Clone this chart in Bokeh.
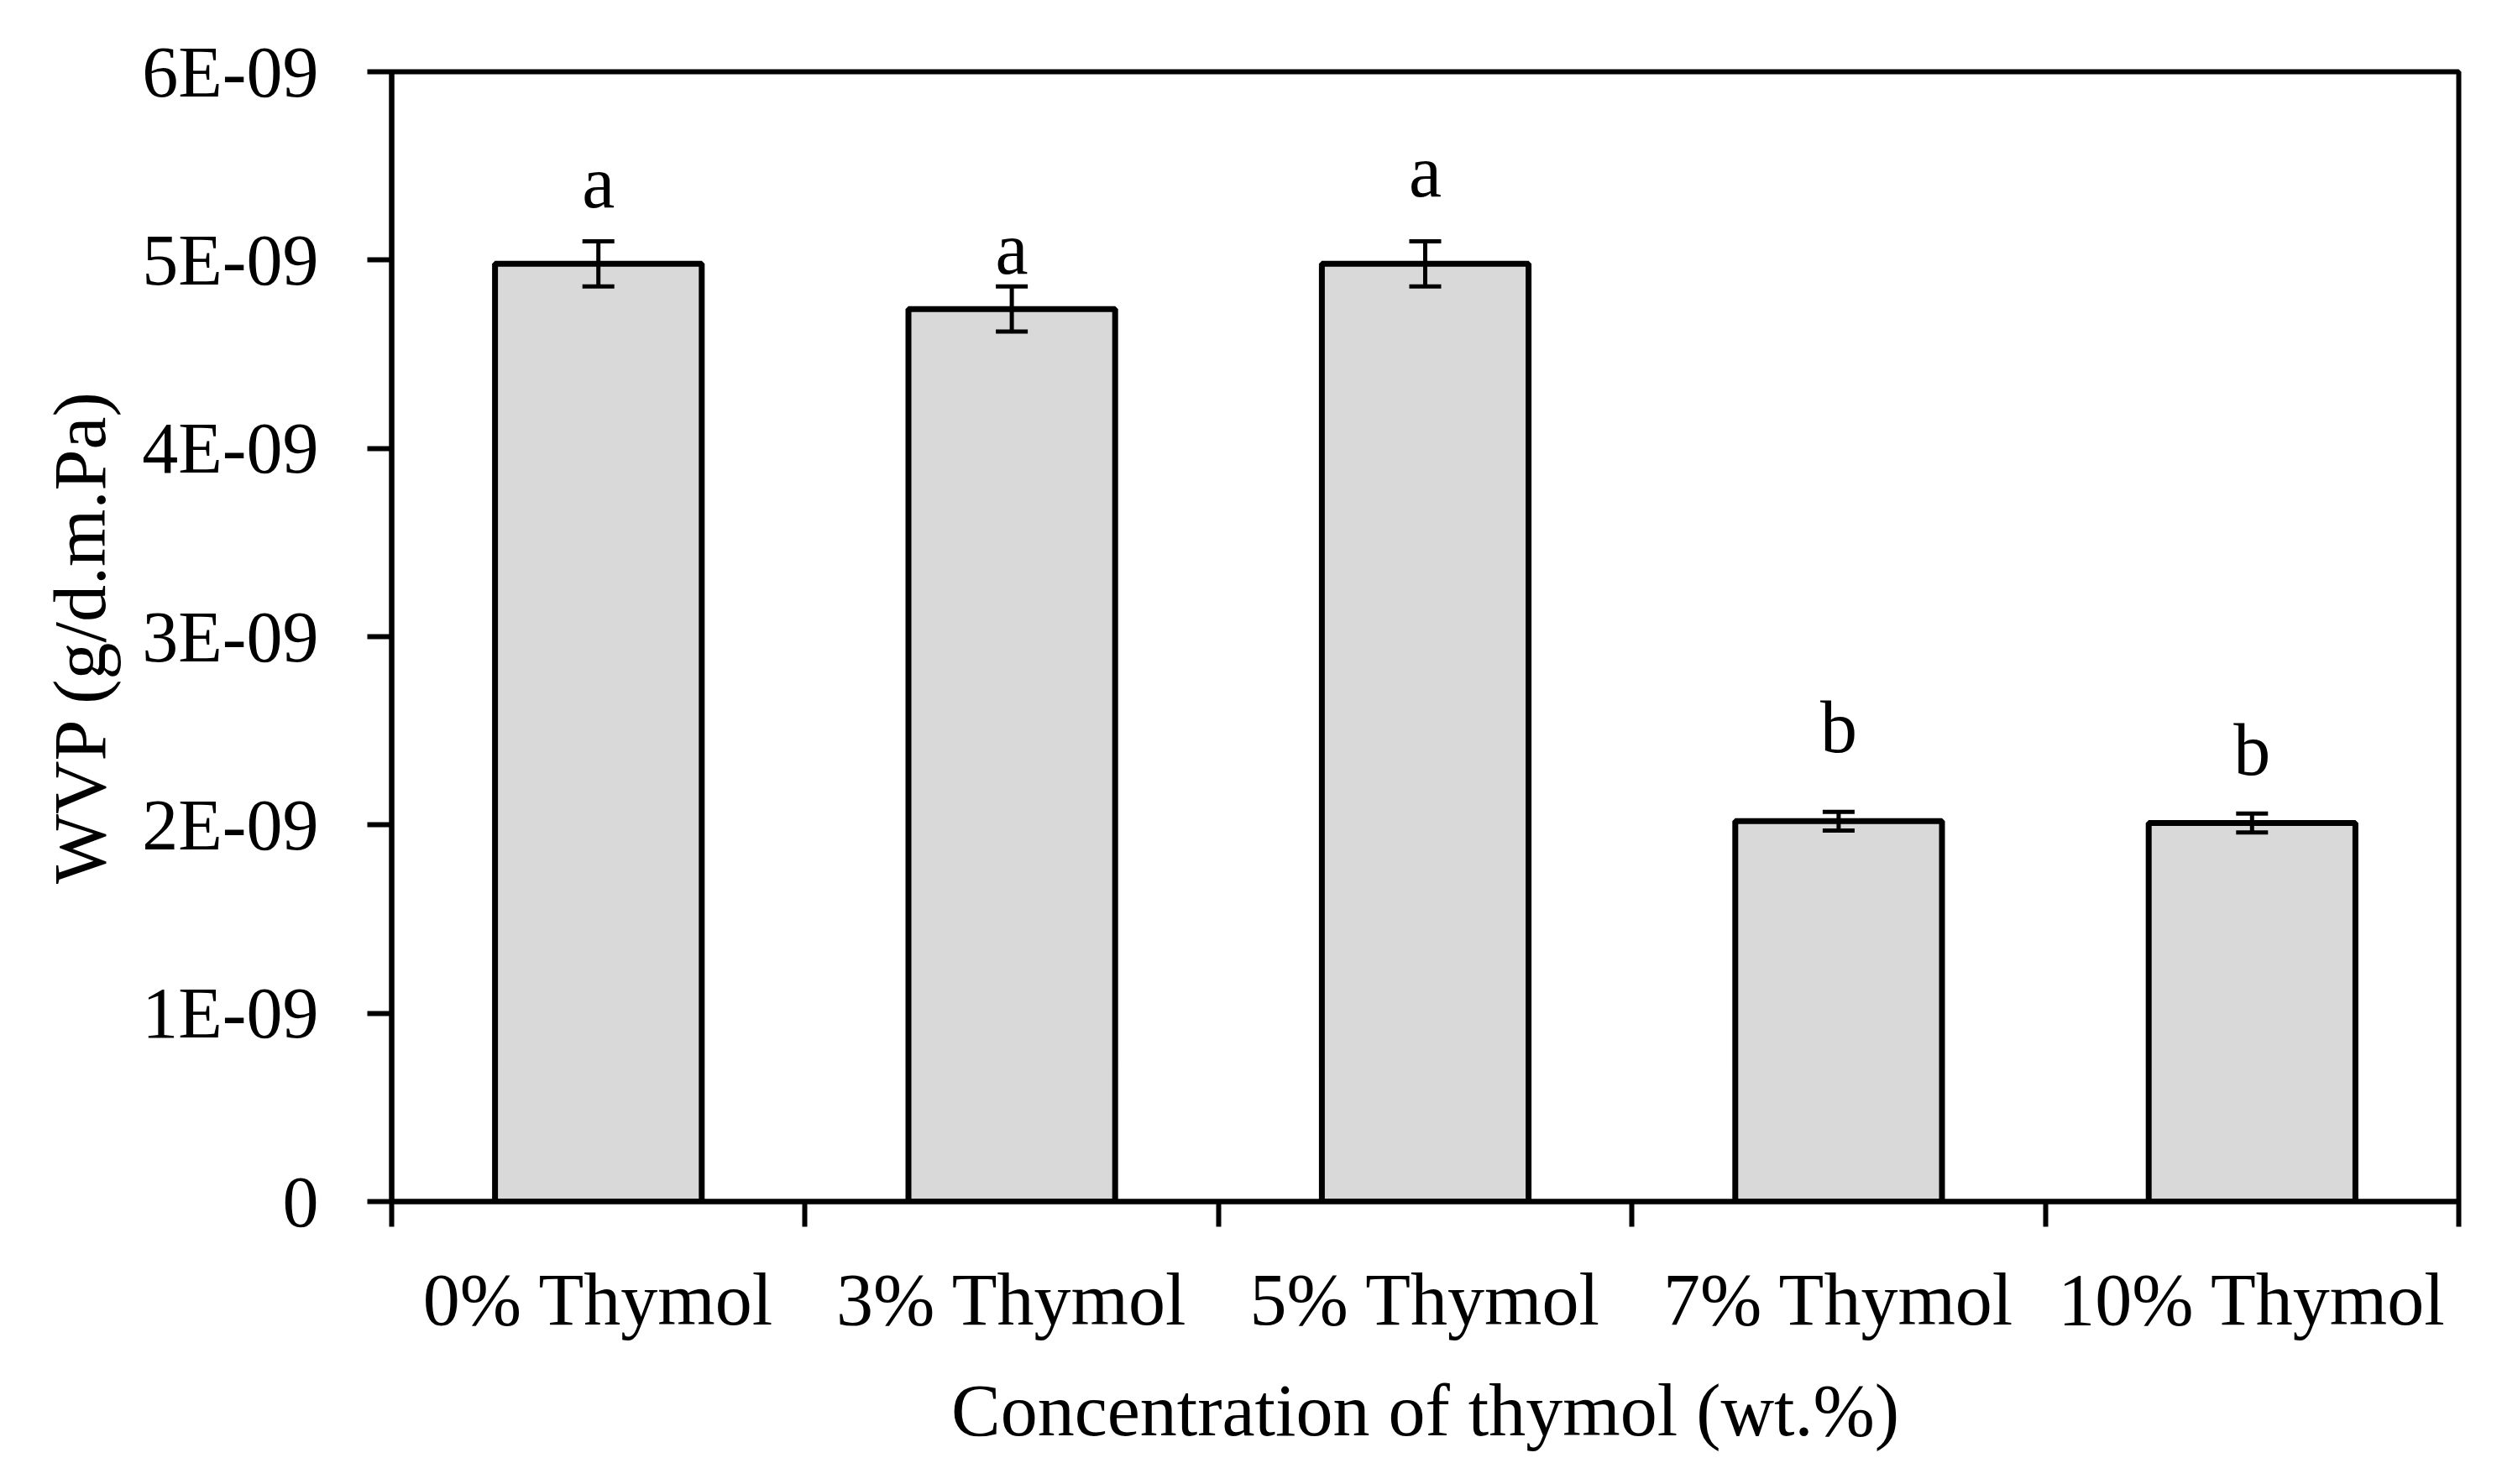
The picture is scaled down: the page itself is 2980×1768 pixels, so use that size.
from bokeh.core.properties import value
from bokeh.embed import file_html
from bokeh.models import (ColumnDataSource, CustomJSTickFormatter, FixedTicker,
                          Range1d, TeeHead, Whisker)
from bokeh.plotting import figure
from bokeh.resources import INLINE

# data
categories = ["0% Thymol", "3% Thymol", "5% Thymol", "7% Thymol", "10% Thymol"]
wvp = [4.98e-9, 4.74e-9, 4.98e-9, 2.02e-9, 2.01e-9]
wvp_err = [0.12e-9, 0.12e-9, 0.12e-9, 0.05e-9, 0.05e-9]
letters = ["a", "a", "a", "b", "b"]
letter_y = [5.41e-9, 5.06e-9, 5.47e-9, 2.52e-9, 2.40e-9]
y_ticks = [0, 1e-9, 2e-9, 3e-9, 4e-9, 5e-9, 6e-9]

FONT = "Liberation Serif"
FS = "88px"

xs = [i + 0.5 for i in range(len(categories))]
src = ColumnDataSource(dict(
    x=xs, top=wvp,
    upper=[v + e for v, e in zip(wvp, wvp_err)],
    lower=[v - e for v, e in zip(wvp, wvp_err)],
    letter=letters, ly=letter_y,
))

p = figure(width=2964, height=1750, x_range=Range1d(0, len(categories)),
           y_range=Range1d(0, 6e-9), output_backend="svg",
           toolbar_location=None, tools="")
p.min_border_left = 466
p.min_border_right = 36
p.min_border_top = 85
p.min_border_bottom = 319
p.background_fill_color = "white"
p.border_fill_color = "white"
p.outline_line_color = "black"
p.outline_line_width = 6
p.xgrid.visible = False
p.ygrid.visible = False

p.vbar(x="x", top="top", width=0.5, bottom=0, source=src,
       fill_color="#D9D9D9", line_color="black", line_width=7)

p.add_layout(Whisker(base="x", upper="upper", lower="lower", source=src,
                     level="overlay", line_width=5, line_color="black",
                     upper_head=TeeHead(size=38, line_width=5, line_color="black"),
                     lower_head=TeeHead(size=38, line_width=5, line_color="black")))

p.text(x="x", y="ly", text="letter", source=src, text_align="center",
       text_baseline="alphabetic", text_font=value(FONT), text_font_size=FS,
       text_color="black")

# x axis: labels at centres, ticks at category boundaries
xa = p.xaxis[0]
xa.ticker = FixedTicker(ticks=xs, minor_ticks=list(range(len(categories) + 1)))
xa.major_label_overrides = {x: c for x, c in zip(xs, categories)}
xa.major_tick_out = 0
xa.major_tick_in = 0
xa.minor_tick_out = 30
xa.minor_tick_in = 0
xa.minor_tick_line_width = 6
xa.minor_tick_line_color = "black"
xa.axis_line_width = 6
xa.axis_line_color = "black"
xa.major_label_standoff = 38
xa.major_label_text_font = FONT
xa.major_label_text_font_size = FS
xa.major_label_text_color = "black"
xa.axis_label = "Concentration of thymol (wt.%)"
xa.axis_label_text_font = FONT
xa.axis_label_text_font_size = FS
xa.axis_label_text_font_style = "normal"
xa.axis_label_text_color = "black"
xa.axis_label_standoff = 32

ya = p.yaxis[0]
ya.ticker = FixedTicker(ticks=y_ticks, minor_ticks=[])
ya.formatter = CustomJSTickFormatter(code="""
    if (Math.abs(tick) < 1e-15) return "0";
    const parts = tick.toExponential(0).split("e");
    const n = parseInt(parts[1]);
    const a = Math.abs(n);
    return parts[0] + "E" + (n < 0 ? "-" : "+") + (a < 10 ? "0" + a : a);
""")
ya.major_tick_out = 29
ya.major_tick_in = 0
ya.major_tick_line_width = 6
ya.major_tick_line_color = "black"
ya.axis_line_width = 6
ya.axis_line_color = "black"
ya.major_label_standoff = 58
ya.major_label_text_font = FONT
ya.major_label_text_font_size = "86px"
ya.major_label_text_color = "black"
ya.axis_label = "WVP (g/d.m.Pa)"
ya.axis_label_text_font = FONT
ya.axis_label_text_font_size = FS
ya.axis_label_text_font_style = "normal"
ya.axis_label_text_color = "black"
ya.axis_label_standoff = 22

open("out.html", "w").write(file_html(p, INLINE))
